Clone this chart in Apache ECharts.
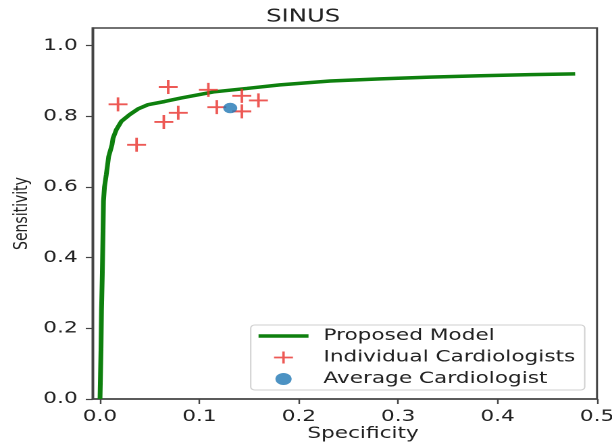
<!DOCTYPE html>
<html>
<head>
<meta charset="utf-8">
<script src="https://cdn.jsdelivr.net/npm/echarts@6/dist/echarts.min.js"></script>
<style>
  html, body { margin: 0; padding: 0; background: #fff; overflow: hidden; }
  /* the reference picture is horizontally stretched; reproduce that stretch */
  #chart { width: 453px; height: 445px; transform: scaleX(1.351); transform-origin: 0 0; }
</style>
</head>
<body>
<div id="chart"></div>
<script>
// ROC curve of the proposed model
const modelSpecificity = [0, 0.0005, 0.001, 0.0015, 0.0023, 0.003, 0.0035, 0.0045, 0.0063, 0.0087, 0.0121, 0.0131, 0.0164, 0.0215, 0.0299, 0.0383, 0.0483, 0.0651, 0.0819, 0.0987, 0.114, 0.1477, 0.181, 0.2316, 0.282, 0.332, 0.383, 0.433, 0.478];
const modelSensitivity = [0, 0.07, 0.14, 0.25, 0.35, 0.47, 0.56, 0.60, 0.635, 0.686, 0.720, 0.738, 0.762, 0.786, 0.805, 0.821, 0.833, 0.842, 0.852, 0.861, 0.869, 0.879, 0.889, 0.900, 0.906, 0.911, 0.915, 0.918, 0.920];
// individual cardiologists
const cardioSpecificity = [0.0181, 0.0686, 0.109, 0.1427, 0.1594, 0.1175, 0.1427, 0.0787, 0.0642, 0.0368];
const cardioSensitivity = [0.834, 0.883, 0.875, 0.858, 0.845, 0.826, 0.814, 0.810, 0.784, 0.7195];
// average cardiologist
const avgSpecificity = [0.131];
const avgSensitivity = [0.8235];
// ticks
const xTicks = [0, 0.1, 0.2, 0.3, 0.4, 0.5];
const yTicks = [0, 0.2, 0.4, 0.6, 0.8, 1.0];
const seriesNames = ['Proposed Model', 'Individual Cardiologists', 'Average Cardiologist'];
const titleText = 'SINUS';
const xName = 'Specificity';
const yName = 'Sensitivity';

const RED = '#e8302a';
const GREEN = '#0e800e';
const BLUE = '#1f77b4';
const FONT = 'DejaVu Sans';
const frameColor = '#444';

const chart = echarts.init(document.getElementById('chart'), null, { renderer: 'canvas', devicePixelRatio: 2 });

const zip = (a, b) => a.map((v, i) => [v, b[i]]);

const option = {
  animation: false,
  backgroundColor: '#fff',
  title: {
    text: titleText,
    left: 197,
    top: 8,
    padding: 0,
    textStyle: { fontFamily: FONT, fontSize: 18, fontWeight: 'normal', color: '#222' }
  },
  grid: {
    left: 68.5, right: 11.1, top: 28, bottom: 46,
    outerBoundsMode: 'none',
    containLabel: false,
    show: true, borderColor: frameColor, borderWidth: 1.5, backgroundColor: 'transparent'
  },
  legend: {
    orient: 'vertical',
    left: 185.6,
    top: 325,
    itemWidth: 37,
    itemHeight: 12,
    itemGap: 5.5,
    padding: [3, 7, 3, 4],
    backgroundColor: '#fff',
    borderColor: '#d0d0d0',
    borderWidth: 1,
    borderRadius: 3,
    textStyle: { fontFamily: FONT, fontSize: 16, color: '#222', padding: [0, 0, 0, 6] },
    data: [
      { name: seriesNames[0], icon: 'path://M0 0M37 12M0 6L37 6',
        itemStyle: { color: 'rgba(0,0,0,0)', borderColor: GREEN, borderWidth: 3.5 } },
      { name: seriesNames[1], icon: 'path://M0 0M37 12M11.5 6L25.5 6M18.5 0L18.5 12',
        itemStyle: { color: 'rgba(0,0,0,0)', borderColor: RED, borderWidth: 1.8 } },
      { name: seriesNames[2], icon: 'circle', itemStyle: { color: BLUE } }
    ]
  },
  xAxis: {
    type: 'value',
    min: -0.0075,
    max: 0.5,
    name: xName,
    nameLocation: 'middle',
    nameGap: 27,
    nameMoveOverlap: false,
    nameTextStyle: { fontFamily: FONT, fontSize: 16, color: '#222', padding: [0, 0, 0, 27] },
    splitLine: { show: false },
    axisLine: { show: true, onZero: false, lineStyle: { color: frameColor, width: 1.5 } },
    axisTick: { show: true, length: 5, customValues: xTicks, lineStyle: { color: frameColor, width: 1.2 } },
    axisLabel: {
      customValues: xTicks,
      margin: 10,
      fontFamily: FONT, fontSize: 16, color: '#222',
      formatter: v => Number(v).toFixed(1)
    }
  },
  yAxis: {
    type: 'value',
    min: 0,
    max: 1.05,
    name: yName,
    nameLocation: 'middle',
    nameRotate: 90,
    nameGap: 45,
    nameMoveOverlap: false,
    nameTextStyle: { fontFamily: FONT, fontSize: 14, color: '#222' },
    splitLine: { show: false },
    axisLine: { show: true, onZero: false, lineStyle: { color: frameColor, width: 1.5 } },
    axisTick: { show: true, length: 5, customValues: yTicks, lineStyle: { color: frameColor, width: 1.2 } },
    axisLabel: {
      customValues: yTicks,
      margin: 11,
      fontFamily: FONT, fontSize: 16, color: '#222',
      formatter: v => Number(v).toFixed(1)
    }
  },
  series: [
    {
      name: seriesNames[0],
      type: 'line',
      data: zip(modelSpecificity, modelSensitivity),
      symbol: 'none',
      smooth: false,
      lineStyle: { color: GREEN, width: 3.5 },
      itemStyle: { color: GREEN },
      z: 2
    },
    {
      name: seriesNames[1],
      type: 'scatter',
      data: zip(cardioSpecificity, cardioSensitivity),
      symbol: 'path://M0 5L10 5M5 0L5 10',
      symbolSize: 14,
      itemStyle: { color: 'rgba(0,0,0,0)', borderColor: RED, borderWidth: 1.9 },
      z: 3
    },
    {
      name: seriesNames[2],
      type: 'scatter',
      data: zip(avgSpecificity, avgSensitivity),
      symbol: 'circle',
      symbolSize: 10.5,
      itemStyle: { color: BLUE },
      z: 4
    }
  ]
};
chart.setOption(option);
</script>
</body>
</html>
